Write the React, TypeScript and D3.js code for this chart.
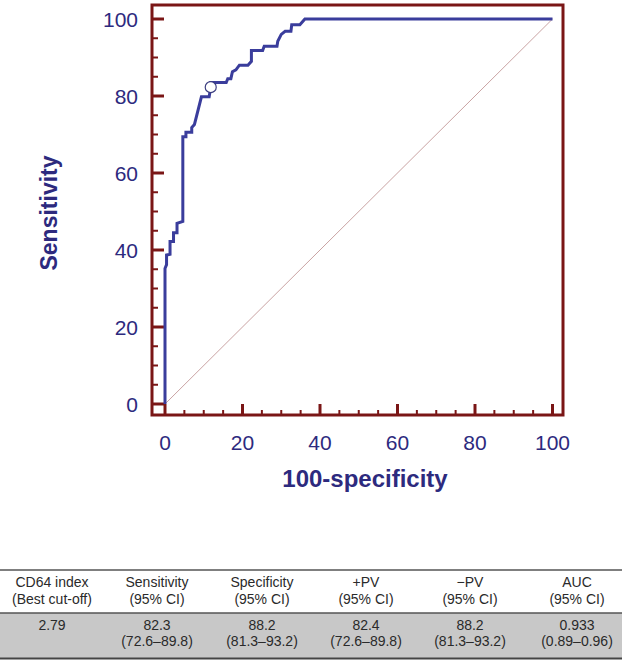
import React from "react";
import * as d3 from "d3";

// ROC curve points (100-specificity, sensitivity)
const rocFpr = [0, 0, 0.4, 0.4, 1.3, 1.3, 2.2, 2.2, 3.1, 3.1, 4.6, 4.6, 5.4, 5.4, 6.9, 6.9, 7.6, 9.4, 11.4, 11.8, 11.8, 15.8, 16.2, 17.0, 17.4, 18.3, 19.2, 21.4, 22.3, 22.3, 25.2, 25.6, 28.9, 29.1, 30.0, 31.0, 32.5, 32.7, 34.8, 36.1, 100];
const rocTpr = [0, 35.2, 36.2, 38.7, 38.9, 42.2, 42.2, 44.5, 44.5, 46.9, 47.4, 69.4, 69.4, 70.6, 70.6, 71.8, 72.6, 79.8, 79.8, 82.3, 83.5, 83.5, 84.5, 84.5, 86.3, 86.8, 88.0, 88.0, 89.0, 91.8, 91.8, 92.9, 92.9, 94.2, 96.0, 96.8, 96.8, 98.5, 98.5, 100, 100];

// best cut-off point
const cutoffFpr = [11.8];
const cutoffTpr = [82.3];

const xTickValues = [0, 20, 40, 60, 80, 100];
const yTickValues = [0, 20, 40, 60, 80, 100];

const tableHeaderLine1 = ["CD64 index", "Sensitivity", "Specificity", "+PV", "\u2212PV", "AUC"];
const tableHeaderLine2 = ["(Best cut-off)", "(95% CI)", "(95% CI)", "(95% CI)", "(95% CI)", "(95% CI)"];
const tableRowLine1 = ["2.79", "82.3", "88.2", "82.4", "88.2", "0.933"];
const tableRowLine2 = ["", "(72.6\u201389.8)", "(81.3\u201393.2)", "(72.6\u201389.8)", "(81.3\u201393.2)", "(0.89\u20130.96)"];
const tableColCenters = [52, 157, 262, 366, 470, 577];

const W = 622;
const H = 661;
const frame = { left: 152, right: 563, top: 5, bottom: 415 };
const FRAME_COLOR = "#7a1616";
const TEXT_COLOR = "#2d2a7e";
const CURVE_COLOR = "#3a3d9c";
const FONT = "'Liberation Sans', Arial, Helvetica, sans-serif";

export default function App() {
  const x = d3.scaleLinear().domain([0, 100]).range([165, 552.5]);
  const y = d3.scaleLinear().domain([0, 100]).range([404, 19]);

  const minorTicks = d3.range(0, 101, 5).filter((v) => v % 20 !== 0);

  const pts: [number, number][] = rocFpr.map((f, i) => [f, rocTpr[i]]);
  const line = d3
    .line<[number, number]>()
    .x((d) => x(d[0]))
    .y((d) => y(d[1]));

  return (
    <div style={{ position: "absolute", left: 0, top: 0 }}>
      <svg width={W} height={H} style={{ display: "block", background: "#fff" }}>
        {/* diagonal reference */}
        <line x1={x(0)} y1={y(0)} x2={x(100)} y2={y(100)} stroke="#c9a3a3" strokeWidth={1} />

        {/* y ticks */}
        {yTickValues.map((v) => (
          <line key={"ym" + v} x1={frame.left} x2={frame.left + 12} y1={y(v)} y2={y(v)} stroke={FRAME_COLOR} strokeWidth={3} />
        ))}
        {minorTicks.map((v) => (
          <line key={"yn" + v} x1={frame.left} x2={frame.left + 6} y1={y(v)} y2={y(v)} stroke={FRAME_COLOR} strokeWidth={2} />
        ))}
        {/* x ticks */}
        {xTickValues.map((v) => (
          <line key={"xm" + v} x1={x(v)} x2={x(v)} y1={frame.bottom} y2={frame.bottom - 11} stroke={FRAME_COLOR} strokeWidth={3} />
        ))}
        {minorTicks.map((v) => (
          <line key={"xn" + v} x1={x(v)} x2={x(v)} y1={frame.bottom} y2={frame.bottom - 5} stroke={FRAME_COLOR} strokeWidth={2} />
        ))}

        {/* frame */}
        <rect
          x={frame.left}
          y={frame.top}
          width={frame.right - frame.left}
          height={frame.bottom - frame.top}
          fill="none"
          stroke={FRAME_COLOR}
          strokeWidth={3}
        />

        {/* ROC curve */}
        <path d={line(pts) || ""} fill="none" stroke={CURVE_COLOR} strokeWidth={3} strokeLinejoin="miter" />

        {/* cutoff marker */}
        {cutoffFpr.map((f, i) => (
          <circle key={"c" + i} cx={x(f)} cy={y(cutoffTpr[i])} r={5.5} fill="#fff" stroke="#3d3f80" strokeWidth={1.2} />
        ))}

        {/* tick labels */}
        {yTickValues.map((v) => (
          <text key={"yl" + v} x={138} y={y(v) + 7.5} textAnchor="end" fontFamily={FONT} fontSize={21} fill={TEXT_COLOR}>
            {v}
          </text>
        ))}
        {xTickValues.map((v) => (
          <text key={"xl" + v} x={x(v)} y={450} textAnchor="middle" fontFamily={FONT} fontSize={21} fill={TEXT_COLOR}>
            {v}
          </text>
        ))}

        {/* axis titles */}
        <text
          transform="translate(57,213) rotate(-90)"
          textAnchor="middle"
          fontFamily={FONT}
          fontSize={23}
          fontWeight="bold"
          fill={TEXT_COLOR}
        >
          Sensitivity
        </text>
        <text x={365} y={487} textAnchor="middle" fontFamily={FONT} fontSize={24} fontWeight="bold" fill={TEXT_COLOR}>
          100-specificity
        </text>

        {/* table */}
        <rect x={0} y={613} width={W} height={45} fill="#c8c8c8" />
        <line x1={0} x2={W} y1={570} y2={570} stroke="#555" strokeWidth={1.5} />
        <line x1={0} x2={W} y1={613} y2={613} stroke="#555" strokeWidth={1.5} />
        <line x1={0} x2={W} y1={658.5} y2={658.5} stroke="#444" strokeWidth={2} />
        {tableColCenters.map((cx, i) => (
          <g key={"col" + i} fontFamily={FONT} fontSize={14} fill="#2a2a2a" textAnchor="middle">
            <text x={cx} y={587}>{tableHeaderLine1[i]}</text>
            <text x={cx} y={604}>{tableHeaderLine2[i]}</text>
            <text x={cx} y={630}>{tableRowLine1[i]}</text>
            <text x={cx} y={646}>{tableRowLine2[i]}</text>
          </g>
        ))}
      </svg>
    </div>
  );
}
